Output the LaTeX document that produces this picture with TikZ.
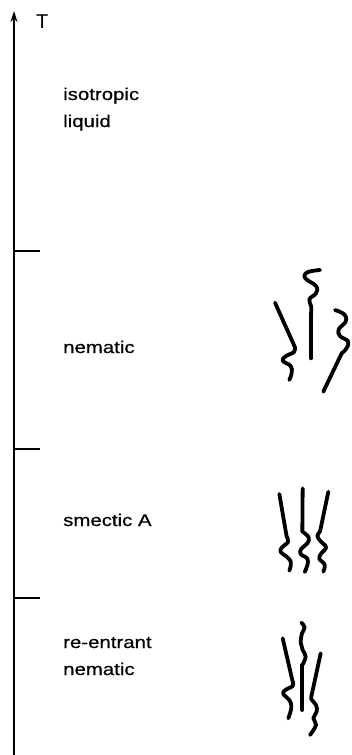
\documentclass[tikz,border=0pt]{standalone}
\usepackage{fontspec}
\newfontfamily\labfont[FakeStretch=1.2,FakeBold=0.6]{Liberation Sans}
\usetikzlibrary{arrows.meta}
\begin{document}
\begin{tikzpicture}[x=1pt,y=-1pt,
  axisline/.style={line width=2.8pt},
  tickline/.style={line width=2.6pt},
  phase/.style={anchor=base west,inner sep=0pt,font=\labfont\fontsize{17}{27}\selectfont,align=left},
  molecule/.style={line width=3.8pt,line cap=round,line join=round},
  tailcurve/.style={molecule,smooth,tension=0.7}]
\useasboundingbox (0,0) rectangle (352,755);

% temperature axis
\coordinate (axbot) at (14,756);
\coordinate (axtop) at (14,11);
\draw[axisline,-{Stealth[length=11pt,width=7pt]}] (axbot) -- (axtop);
\node[anchor=base west,inner sep=0pt,font=\fontspec{Liberation Sans}\fontsize{20}{20}\selectfont] (tlabel) at (36,28) {T};

% phase boundaries
\foreach \y/\n in {251/t1,449/t2,598/t3}{
  \coordinate (\n a) at (14,\y);
  \coordinate (\n b) at (40,\y);
  \draw[tickline] (\n a) -- (\n b);
}

% phase names
\node[phase] (iso) at (63,127) {isotropic\\liquid};
\node[phase] (nem) at (63,353) {nematic};
\node[phase] (sma) at (63,526) {smectic A};
\node[phase] (ren) at (63,675) {re-entrant\\nematic};

% nematic: rods pointing in scattered directions
\begin{scope}[shift={(250,260)},x=1pt/3,y=-1pt/3]
  \draw[molecule] (75,128) -- (135,262);
  \draw[tailcurve] plot coordinates {(135,262) (132,276) (108,288) (98,302) (122,318) (125,338) (118,360)};
  \draw[tailcurve] plot coordinates {(210,30) (172,37) (166,55) (198,78) (198,100) (178,118) (184,140) (183,160)};
  \draw[molecule] (183,160) -- (183,295);
  \draw[tailcurve] plot coordinates {(255,150) (284,164) (287,185) (266,208) (270,228) (294,244) (290,264) (275,280)};
  \draw[molecule] (275,280) -- (220,395);
\end{scope}

% smectic A: rods aligned side by side in a layer
\begin{scope}[shift={(270,470)},x=1pt/3,y=-1pt/3]
  \draw[molecule] (28,72) -- (50,200);
  \draw[tailcurve] plot coordinates {(50,200) (54,216) (36,232) (32,246) (50,260) (62,274) (62,288) (58,302)};
  \draw[molecule] (98,55) -- (97,185);
  \draw[tailcurve] plot coordinates {(97,185) (116,202) (112,220) (94,236) (92,252) (112,266) (112,286) (104,306)};
  \draw[molecule] (175,65) -- (150,185);
  \draw[tailcurve] plot coordinates {(150,185) (142,198) (152,214) (168,232) (154,250) (148,266) (164,284) (160,305)};
\end{scope}

% re-entrant nematic: aligned rods, shifted along their length
\begin{scope}[shift={(270,630)},x=1pt/3,y=-1pt/3]
  \draw[molecule] (38,25) -- (68,155);
  \draw[tailcurve] plot coordinates {(68,155) (68,168) (46,180) (40,192) (58,210) (64,232) (55,265)};
  \draw[tailcurve] plot coordinates {(94,-22) (104,-8) (96,10) (92,38) (98,60) (107,80) (97,105)};
  \draw[molecule] (97,105) -- (97,240);
  \draw[molecule] (152,70) -- (125,195);
  \draw[tailcurve] plot coordinates {(125,195) (124,208) (138,225) (140,245) (130,265) (138,285) (120,315)};
\end{scope}
\end{tikzpicture}
\end{document}
